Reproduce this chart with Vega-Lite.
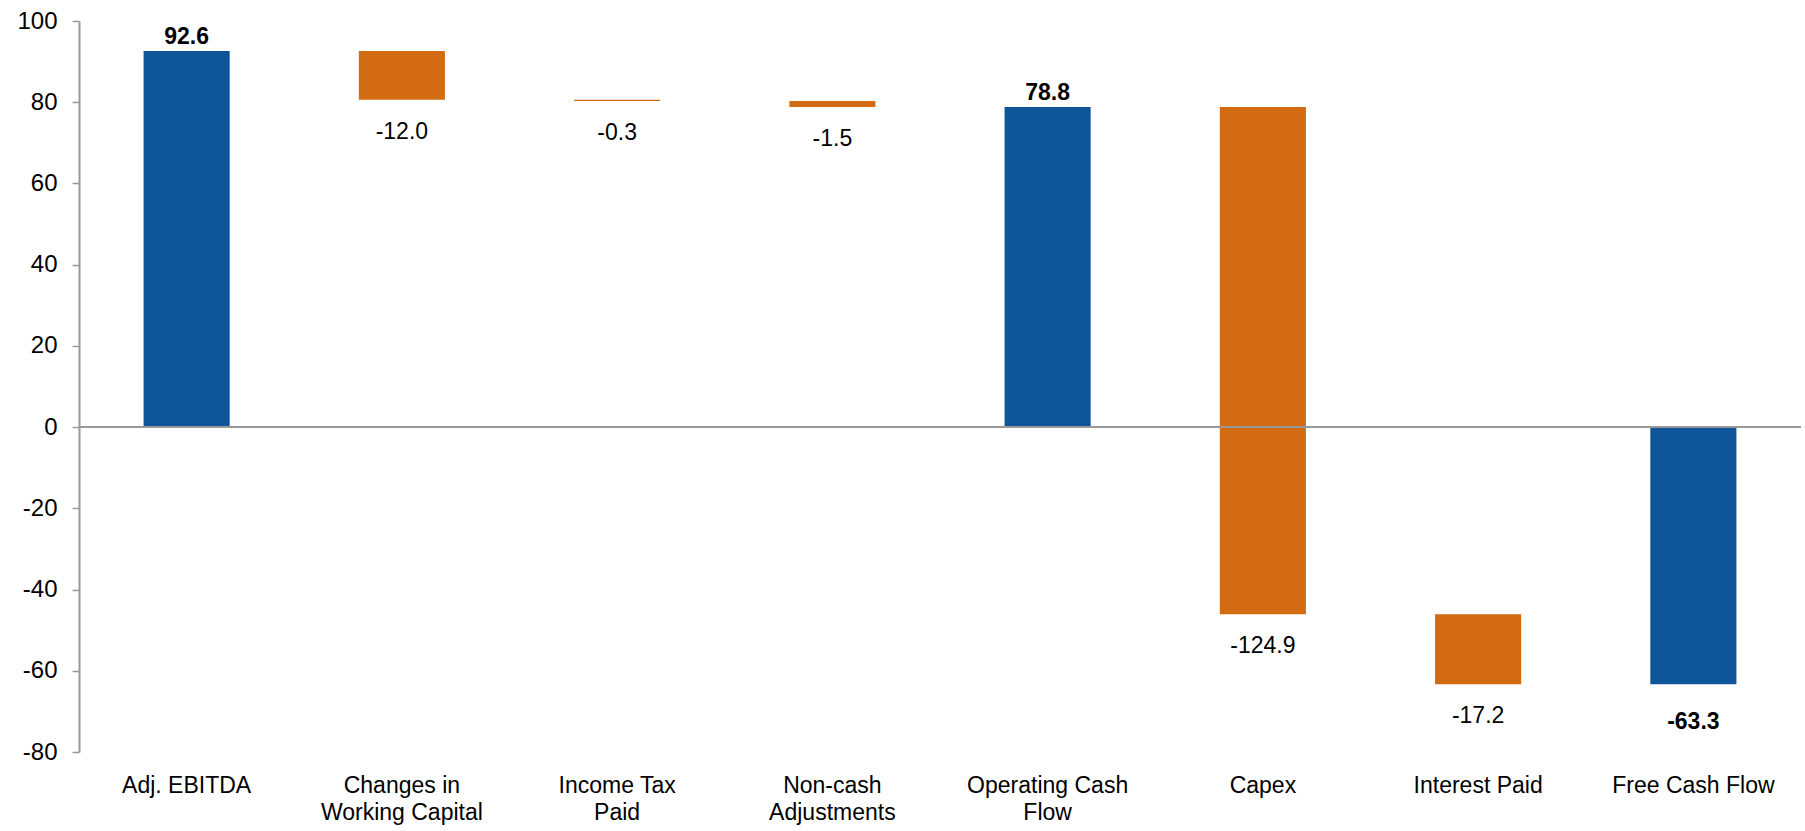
{
  "$schema": "https://vega.github.io/schema/vega-lite/v6.json",
  "width": 1722,
  "height": 731,
  "autosize": {"type": "none"},
  "padding": {"left": 79, "top": 21, "right": 4, "bottom": 79},
  "background": "white",
  "config": {
    "view": {"stroke": null},
    "font": "Liberation Sans",
    "axis": {"labelFont": "Liberation Sans", "labelColor": "#000000", "grid": false, "title": null}
  },
  "data": {
    "values": [
      {"category": "Adj. EBITDA", "start": 0, "end": 92.6, "type": "total", "label": "92.6"},
      {"category": "Changes in\nWorking Capital", "start": 92.6, "end": 80.6, "type": "delta", "label": "-12.0"},
      {"category": "Income Tax\nPaid", "start": 80.6, "end": 80.3, "type": "delta", "label": "-0.3"},
      {"category": "Non-cash\nAdjustments", "start": 80.3, "end": 78.8, "type": "delta", "label": "-1.5"},
      {"category": "Operating Cash\nFlow", "start": 0, "end": 78.8, "type": "total", "label": "78.8"},
      {"category": "Capex", "start": 78.8, "end": -46.1, "type": "delta", "label": "-124.9"},
      {"category": "Interest Paid", "start": -46.1, "end": -63.3, "type": "delta", "label": "-17.2"},
      {"category": "Free Cash Flow", "start": 0, "end": -63.3, "type": "total", "label": "-63.3"}
    ]
  },
  "encoding": {
    "x": {
      "field": "category",
      "type": "nominal",
      "sort": null,
      "scale": {"paddingInner": 0.6, "paddingOuter": 0.3},
      "axis": {
        "domain": false,
        "ticks": false,
        "labelAngle": 0,
        "labelFontSize": 23,
        "labelLineHeight": 27,
        "labelPadding": 22,
        "labelBaseline": "top",
        "labelExpr": "split(datum.label, '\\n')"
      }
    }
  },
  "layer": [
    {
      "mark": {"type": "bar", "stroke": null},
      "encoding": {
        "y": {
          "field": "start",
          "type": "quantitative",
          "scale": {"domain": [-80, 100], "nice": false, "zero": false},
          "axis": {
            "values": [-80, -60, -40, -20, 0, 20, 40, 60, 80, 100],
            "labelExpr": "toString(datum.value)",
            "domainColor": "#999999",
            "domainWidth": 2,
            "tickColor": "#999999",
            "tickWidth": 1.5,
            "tickSize": 7,
            "labelFontSize": 24,
            "labelPadding": 15
          }
        },
        "y2": {"field": "end"},
        "color": {
          "field": "type",
          "type": "nominal",
          "scale": {"domain": ["total", "delta"], "range": ["#0E5699", "#D26B11"]},
          "legend": null
        }
      }
    },
    {
      "mark": {"type": "rule", "color": "#999999", "strokeWidth": 2},
      "encoding": {"x": {"value": 0}, "x2": {"value": 1722}, "y": {"datum": 0, "type": "quantitative"}}
    },
    {
      "transform": [{"filter": "datum.type == 'total' && datum.end > 0"}],
      "mark": {"type": "text", "baseline": "bottom", "dy": -2, "fontSize": 23, "fontWeight": "bold", "color": "#000000"},
      "encoding": {
        "y": {"field": "end", "type": "quantitative"},
        "text": {"field": "label"}
      }
    },
    {
      "transform": [{"filter": "datum.type == 'total' && datum.end < 0"}],
      "mark": {"type": "text", "baseline": "middle", "dy": 38, "fontSize": 23, "fontWeight": "bold", "color": "#000000"},
      "encoding": {
        "y": {"field": "end", "type": "quantitative"},
        "text": {"field": "label"}
      }
    },
    {
      "transform": [{"filter": "datum.type == 'delta'"}],
      "mark": {"type": "text", "baseline": "middle", "dy": 32, "fontSize": 23, "color": "#000000"},
      "encoding": {
        "y": {"field": "end", "type": "quantitative"},
        "text": {"field": "label"}
      }
    }
  ]
}
